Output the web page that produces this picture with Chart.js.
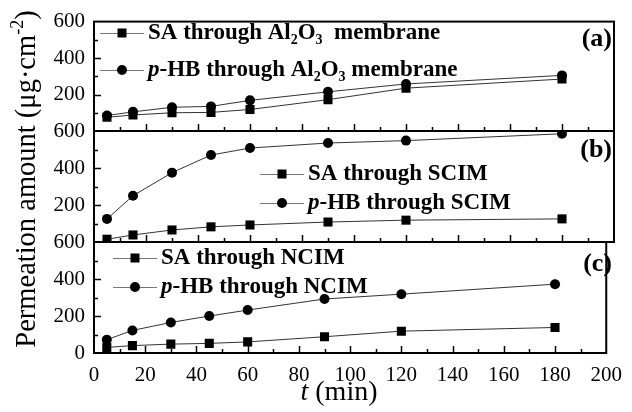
<!DOCTYPE html>
<html>
<head>
<meta charset="utf-8">
<script src="https://cdn.jsdelivr.net/npm/chart.js@4.4.1/dist/chart.umd.min.js"></script>
<style>
body{margin:0;background:#fff}
#wrap{position:relative;width:632px;height:412px}
#wrap canvas{position:absolute;left:0;top:0}
</style>
</head>
<body>
<div id="wrap">
<canvas id="pa" width="632" height="412"></canvas>
<canvas id="pb" width="632" height="412"></canvas>
<canvas id="pc" width="632" height="412"></canvas>
</div>
<script>
// time points (min)
var times = [5, 15, 30, 45, 60, 90, 120, 180];
// (a) Al2O3 membrane
var saAl = [75, 88, 100, 102, 118, 172, 235, 285];
var hbAl = [85, 105, 130, 135, 168, 215, 258, 305];
// (b) SCIM
var saScim = [15, 38, 65, 82, 92, 108, 118, 125];
var hbScim = [125, 250, 375, 470, 508, 535, 548, 585];
// (c) NCIM
var saNcim = [30, 40, 48, 52, 60, 88, 118, 138];
var hbNcim = [72, 122, 165, 200, 232, 292, 318, 372];

var xTicks = [0, 20, 40, 60, 80, 100, 120, 140, 160, 180, 200];
var yTicks = [0, 200, 400, 600];

var serif = "'Liberation Serif', 'Times New Roman', serif";

function pts(vals) {
  var out = [];
  for (var i = 0; i < times.length; i++) out.push({x: times[i], y: vals[i]});
  return out;
}

// draw text made of styled pieces: b = bold, bi = bold italic, s = subscript
function richText(ctx, x, y, segs, size) {
  ctx.textBaseline = "middle";
  ctx.textAlign = "left";
  ctx.fillStyle = "#000";
  segs.forEach(function(s) {
    var dy = 0;
    if (s[1] == "s") { ctx.font = "bold " + Math.round(size * 0.62) + "px " + serif; dy = size * 0.3; }
    else if (s[1] == "bi") ctx.font = "italic bold " + size + "px " + serif;
    else ctx.font = "bold " + size + "px " + serif;
    ctx.fillText(s[0], x, y + dy);
    x += ctx.measureText(s[0]).width;
  });
}

var deco = {
  id: "deco",
  afterDraw: function(chart, args, o) {
    var ctx = chart.ctx, a = chart.chartArea;
    var xs = chart.scales.x, ys = chart.scales.y;
    ctx.save();
    ctx.strokeStyle = "#000";
    ctx.lineWidth = 1.5;
    // inward ticks
    ctx.beginPath();
    for (var v = 10; v < 200; v += 10) {
      var px = Math.round(xs.getPixelForValue(v)) + 0.5;
      ctx.moveTo(px, a.bottom);
      ctx.lineTo(px, a.bottom - (v % 20 == 0 ? 7 : 4));
    }
    for (var w = 100; w < 600; w += 100) {
      var py = Math.round(ys.getPixelForValue(w)) + 0.5;
      ctx.moveTo(a.left, py);
      ctx.lineTo(a.left + (w % 200 == 0 ? 7 : 4), py);
    }
    ctx.stroke();
    ctx.lineWidth = 2;
    ctx.strokeRect(a.left, a.top, a.right - a.left, a.bottom - a.top);

    // panel tag
    ctx.fillStyle = "#000";
    ctx.font = "bold 26px " + serif;
    ctx.textAlign = "right";
    ctx.textBaseline = "middle";
    ctx.fillText(o.tag, 612, a.top + o.tagDy);

    // legend
    var L = o.legend;
    L.rows.forEach(function(row, i) {
      var y = L.y[i];
      ctx.strokeStyle = "#777";
      ctx.lineWidth = 1;
      ctx.beginPath();
      ctx.moveTo(L.x, y + 0.5);
      ctx.lineTo(L.x + 44, y + 0.5);
      ctx.stroke();
      ctx.fillStyle = "#000";
      if (i == 0) ctx.fillRect(L.x + 22 - 4.5, y - 4.5, 9, 9);
      else { ctx.beginPath(); ctx.arc(L.x + 22, y, 5, 0, Math.PI * 2); ctx.fill(); }
      richText(ctx, L.x + 48, y, row, 23);
    });

    if (o.titles) {
      ctx.fillStyle = "#000";
      ctx.textBaseline = "middle";
      // x title
      ctx.font = "italic 28px " + serif;
      var t1 = ctx.measureText("t").width;
      ctx.font = "28px " + serif;
      var t2 = ctx.measureText(" (min)").width;
      var sx = 339 - (t1 + t2) / 2;
      ctx.textAlign = "left";
      ctx.font = "italic 28px " + serif;
      ctx.fillText("t", sx, 393);
      ctx.font = "28px " + serif;
      ctx.fillText(" (min)", sx + t1, 393);
      // y title
      ctx.translate(28, 179);
      ctx.rotate(-Math.PI / 2);
      var s1 = "Permeation amount (\u03bcg\u00b7cm", s2 = "-2", s3 = ")";
      ctx.font = "28.5px " + serif;
      var w1 = ctx.measureText(s1).width, w3 = ctx.measureText(s3).width;
      ctx.font = "18px " + serif;
      var w2 = ctx.measureText(s2).width;
      var x0 = -(w1 + w2 + w3) / 2;
      ctx.font = "28.5px " + serif;
      ctx.fillText(s1, x0, 0);
      ctx.font = "18px " + serif;
      ctx.fillText(s2, x0 + w1, -10);
      ctx.font = "28.5px " + serif;
      ctx.fillText(s3, x0 + w1 + w2, 0);
    }
    ctx.restore();
  }
};

function makePanel(id, sa, hb, pad, showX, deco_opts) {
  return new Chart(document.getElementById(id), {
    type: "line",
    data: {
      datasets: [{
        label: "SA",
        data: pts(sa),
        borderColor: "#333",
        borderWidth: 1,
        pointStyle: "rect",
        pointRadius: 6.4,
        pointBackgroundColor: "#000",
        pointBorderWidth: 0
      }, {
        label: "p-HB",
        data: pts(hb),
        borderColor: "#333",
        borderWidth: 1,
        pointStyle: "circle",
        pointRadius: 5,
        pointBackgroundColor: "#000",
        pointBorderWidth: 0
      }]
    },
    options: {
      responsive: false,
      animation: false,
      layout: {padding: {left: 0, right: 18, top: pad[0], bottom: pad[1]}},
      plugins: {legend: {display: false}, tooltip: {enabled: false}, deco: deco_opts},
      scales: {
        x: {
          type: "linear", min: 0, max: 200,
          display: showX,
          afterBuildTicks: function(s) { s.ticks = xTicks.map(function(v) { return {value: v}; }); },
          grid: {display: false, drawTicks: false},
          border: {display: false},
          ticks: {font: {family: serif, size: 21}, color: "#000", padding: 10, maxRotation: 0},
          afterFit: function(s) { if (showX) s.height = 59; }
        },
        y: {
          min: 0, max: 600,
          afterBuildTicks: function(s) { s.ticks = yTicks.map(function(v) { return {value: v}; }); },
          grid: {display: false, drawTicks: false},
          border: {display: false},
          ticks: {
            font: {family: serif, size: 21}, color: "#000", padding: 9,
            callback: function(v) { return (v == 0 && !showX) ? "" : v; }
          },
          afterFit: function(s) { s.width = 94; }
        }
      }
    },
    plugins: [deco]
  });
}

makePanel("pa", saAl, hbAl, [20, 412 - 131], false, {
  tag: "(a)", tagDy: 18,
  legend: {x: 100, y: [33, 70], rows: [
    [["SA through Al", "b"], ["2", "s"], ["O", "b"], ["3", "s"], ["  membrane", "b"]],
    [["p", "bi"], ["-HB through Al", "b"], ["2", "s"], ["O", "b"], ["3", "s"], [" membrane", "b"]]
  ]}
});
makePanel("pb", saScim, hbScim, [131, 412 - 242], false, {
  tag: "(b)", tagDy: 19,
  legend: {x: 260, y: [174, 203], rows: [
    [["SA through SCIM", "b"]],
    [["p", "bi"], ["-HB through SCIM", "b"]]
  ]}
});
makePanel("pc", saNcim, hbNcim, [242, 0], true, {
  tag: "(c)", tagDy: 22, titles: true,
  legend: {x: 113, y: [258, 287], rows: [
    [["SA through NCIM", "b"]],
    [["p", "bi"], ["-HB through NCIM", "b"]]
  ]}
});
</script>
</body>
</html>
